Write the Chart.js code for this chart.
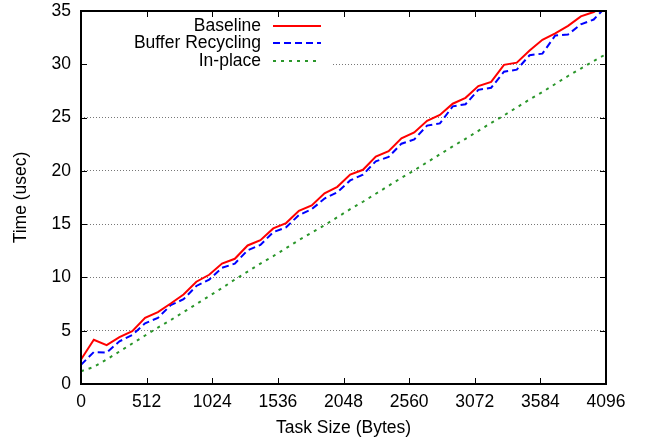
<!DOCTYPE html>
<html>
<head>
<meta charset="utf-8">
<title>Task size vs time</title>
<script src="https://cdn.jsdelivr.net/npm/chart.js@4.4.1/dist/chart.umd.min.js"></script>
<style>
    html, body { margin: 0; padding: 0; background: #fff; }
    canvas { display: block; }
</style>
</head>
<body>
<canvas id="timeChart" width="646" height="439"></canvas>
<script>
// Data
const taskSizes = [0, 100, 200, 300, 400, 500, 600, 700, 800, 900,
    1000, 1100, 1200, 1300, 1400, 1500, 1600, 1700, 1800, 1900,
    2000, 2100, 2200, 2300, 2400, 2500, 2600, 2700, 2800, 2900,
    3000, 3100, 3200, 3300, 3400, 3500, 3600, 3700, 3800, 3900,
    4000, 4096];

const baseline = [2.3, 4.15, 3.65, 4.4, 4.95, 6.2, 6.75, 7.55, 8.4, 9.6,
    10.25, 11.3, 11.75, 13.0, 13.5, 14.6, 15.1, 16.25, 16.75, 17.9,
    18.5, 19.65, 20.1, 21.35, 21.85, 23.05, 23.6, 24.7, 25.25, 26.3,
    26.85, 27.95, 28.35, 29.95, 30.15, 31.3, 32.3, 32.9, 33.6, 34.5,
    34.9, 35.6];

const bufferRecycling = [1.8, 3.0, 2.95, 4.0, 4.6, 5.7, 6.2, 7.4, 7.95, 9.2,
    9.8, 10.9, 11.3, 12.55, 13.05, 14.25, 14.7, 15.85, 16.4, 17.4,
    18.0, 19.1, 19.65, 20.9, 21.3, 22.55, 22.95, 24.25, 24.45, 26.05,
    26.25, 27.6, 27.8, 29.3, 29.5, 30.85, 31.0, 32.7, 32.8, 33.75,
    34.2, 35.4];

const inPlace = [1.2, 1.6, 2.3, 3.05, 3.8, 4.55, 5.3, 6.0, 6.75, 7.5,
    8.25, 9.0, 9.8, 10.55, 11.3, 12.0, 12.75, 13.5, 14.2, 14.9,
    15.65, 16.4, 17.1, 17.85, 18.6, 19.35, 20.05, 20.8, 21.55, 22.3,
    23.0, 23.75, 24.5, 25.2, 25.95, 26.7, 27.4, 28.15, 28.9, 29.6,
    30.3, 30.95];

const seriesLabels = ['Baseline', 'Buffer Recycling', 'In-place'];
const xTicks = [0, 512, 1024, 1536, 2048, 2560, 3072, 3584, 4096];
const yTicks = [0, 5, 10, 15, 20, 25, 30, 35];

const FONT = '"Liberation Sans", Arial, Helvetica, sans-serif';
const FONT_SIZE = 17.5;
Chart.defaults.font.family = FONT;
Chart.defaults.font.size = FONT_SIZE;
Chart.defaults.color = '#000';

function toPoints(values) {
    return taskSizes.map((x, i) => ({ x: x, y: values[i] }));
}

// White key box in the top left corner, text right-aligned, sample on the right
const keyBox = {
    id: 'keyBox',
    afterDatasetsDraw(chart) {
        const { ctx, chartArea: a } = chart;
        ctx.save();
        ctx.fillStyle = '#fff';
        ctx.fillRect(a.left + 1, a.top + 1, 330 - a.left, 70 - a.top);
        ctx.font = FONT_SIZE + 'px ' + FONT;
        ctx.textAlign = 'right';
        ctx.textBaseline = 'middle';
        chart.data.datasets.forEach((ds, i) => {
            const cy = a.top + 14.7 + i * 17.65;
            ctx.fillStyle = '#000';
            ctx.fillText(ds.label, 261, cy);
            ctx.strokeStyle = ds.borderColor;
            ctx.lineWidth = ds.borderWidth;
            ctx.setLineDash(ds.borderDash || []);
            ctx.beginPath();
            ctx.moveTo(273, Math.round(cy));
            ctx.lineTo(321, Math.round(cy));
            ctx.stroke();
        });
        ctx.restore();
    }
};

// Frame with inward tick marks on all four sides
const frame = {
    id: 'frame',
    afterDatasetsDraw(chart) {
        const { ctx, chartArea: a, scales } = chart;
        const len = 6;
        ctx.save();
        ctx.strokeStyle = '#000';
        ctx.lineWidth = 1;
        ctx.beginPath();
        scales.x.ticks.forEach(t => {
            const px = Math.round(scales.x.getPixelForValue(t.value)) + 0.5;
            ctx.moveTo(px, a.bottom); ctx.lineTo(px, a.bottom - len);
            ctx.moveTo(px, a.top); ctx.lineTo(px, a.top + len);
        });
        scales.y.ticks.forEach(t => {
            const py = Math.round(scales.y.getPixelForValue(t.value)) + 0.5;
            ctx.moveTo(a.left, py); ctx.lineTo(a.left + len, py);
            ctx.moveTo(a.right, py); ctx.lineTo(a.right - len, py);
        });
        ctx.stroke();
        ctx.lineWidth = 2;
        ctx.strokeRect(a.left, a.top, a.right - a.left, a.bottom - a.top);
        ctx.restore();
    }
};

new Chart(document.getElementById('timeChart'), {
    type: 'line',
    data: {
        datasets: [{
            label: seriesLabels[0],
            data: toPoints(baseline),
            borderColor: '#ff0000',
            borderWidth: 2
        }, {
            label: seriesLabels[1],
            data: toPoints(bufferRecycling),
            borderColor: '#0000ff',
            borderWidth: 2,
            borderDash: [7, 4]
        }, {
            label: seriesLabels[2],
            data: toPoints(inPlace),
            borderColor: '#2a962a',
            borderWidth: 2,
            borderDash: [3, 5]
        }]
    },
    options: {
        responsive: false,
        animation: false,
        layout: { padding: { top: 11, right: 40, left: 0, bottom: 0 } },
        elements: {
            point: { radius: 0 },
            line: { tension: 0, fill: false }
        },
        plugins: {
            legend: { display: false },
            tooltip: { enabled: false }
        },
        scales: {
            x: {
                type: 'linear',
                min: 0,
                max: 4096,
                afterFit: scale => {
                    scale.height = 55;
                    scale.paddingLeft = 0;
                    scale.paddingRight = 0;
                },
                afterBuildTicks: scale => { scale.ticks = xTicks.map(v => ({ value: v })); },
                ticks: { padding: 8, maxRotation: 0, callback: v => String(v) },
                grid: { display: false, drawTicks: false },
                border: { display: false },
                title: {
                    display: true,
                    text: 'Task Size (Bytes)',
                    padding: { top: 0, bottom: 0 }
                }
            },
            y: {
                min: 0,
                max: 35,
                afterFit: scale => {
                    scale.width = 81;
                    scale.paddingTop = 0;
                    scale.paddingBottom = 0;
                },
                afterBuildTicks: scale => { scale.ticks = yTicks.map(v => ({ value: v })); },
                ticks: { padding: 10 },
                grid: {
                    drawTicks: false,
                    lineWidth: 1,
                    color: c => (c.tick && (c.tick.value === 0 || c.tick.value === 35)) ? 'rgba(0,0,0,0)' : '#777'
                },
                border: { display: false, dash: [1, 2] },
                title: {
                    display: true,
                    text: 'Time (usec)',
                    padding: { top: 11, bottom: 0 }
                }
            }
        }
    },
    plugins: [keyBox, frame]
});
</script>
</body>
</html>
